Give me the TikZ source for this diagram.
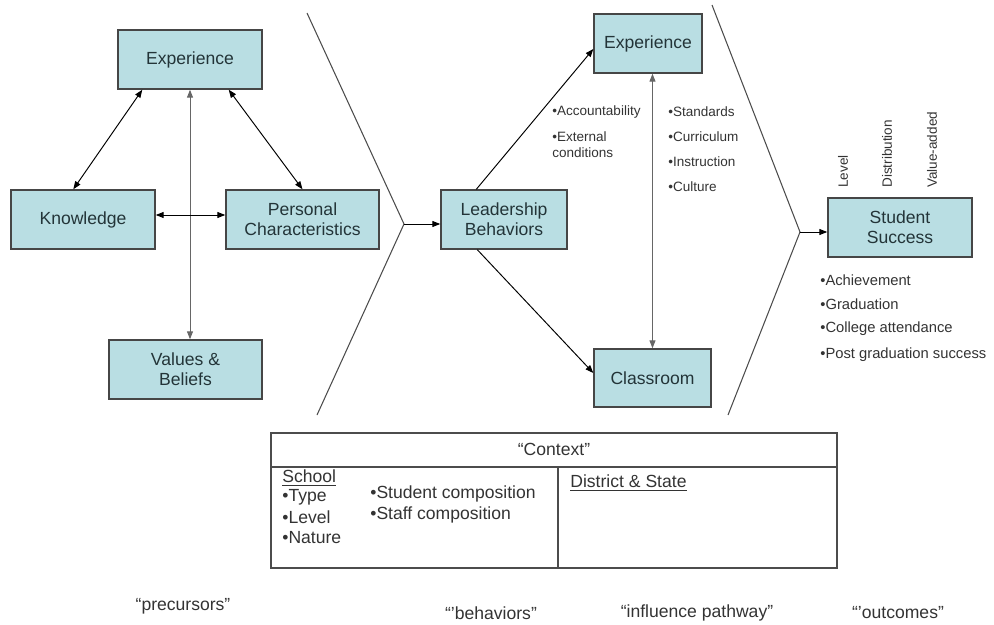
\documentclass[tikz,border=0pt]{standalone}
\usepackage{fontspec}
\setmainfont{Liberation Sans}
\usetikzlibrary{arrows.meta}
\definecolor{boxfill}{RGB}{185,222,227}
\definecolor{boxline}{RGB}{70,70,70}
\definecolor{boxtext}{RGB}{35,52,56}
\tikzset{
  box/.style={draw=boxline, line width=0.8pt, fill=boxfill, text=boxtext, minimum height=1.18cm, align=center, inner sep=0pt, font=\fontsize{10}{11.5}\selectfont},
  note/.style={anchor=west, inner sep=0pt, text=black!80, font=\fontsize{7.7}{9}\selectfont},
  outnote/.style={anchor=west, inner sep=0pt, text=black!80, font=\fontsize{8.4}{10}\selectfont},
  cell/.style={anchor=west, inner sep=0pt, text=black!80, align=left, font=\fontsize{10}{11.5}\selectfont},
  stage/.style={inner sep=0pt, text=black!80, font=\fontsize{10}{12}\selectfont},
  link/.style={<->, line width=0.55pt},
  chev/.style={line width=0.6pt, black!70}
}
\begin{document}
\begin{tikzpicture}[x=0.02cm, y=-0.02cm, >={Triangle[length=1.6mm,width=1.2mm]}]
\useasboundingbox (0,0) rectangle (994,625);

\node[box, minimum width=2.88cm] (expL) at (190,59.5) {Experience};
\node[box, minimum width=2.88cm] (know) at (83,219.5) {Knowledge};
\node[box, minimum width=3.06cm] (pers) at (302.5,219.5) {Personal\\Characteristics};
\node[box, minimum width=3.06cm] (vals) at (185.5,369.5) {Values \&\\Beliefs};

\draw[link] ([xshift=0.5cm]expL.south west) -- ([xshift=1.26cm]know.north west);
\draw[link] ([xshift=-0.68cm]expL.south east) -- (pers.north);
\draw[link, black!60] (expL.south) -- (expL.south |- vals.north);
\draw[link] ([yshift=0.09cm]know.east) -- ([yshift=0.09cm]pers.west);

\coordinate (c1a) at (307,13);
\coordinate (c1tip) at (404,224);
\coordinate (c1b) at (317,415);
\draw[chev] (c1a) -- (c1tip) -- (c1b);

\node[box, minimum width=2.52cm] (lead) at (504,219.5) {Leadership\\Behaviors};
\node[box, minimum width=2.16cm] (expM) at (648,43.5) {Experience};
\node[box, minimum width=2.34cm, minimum height=1.16cm] (class) at (652.5,378) {Classroom};

\draw[->, line width=0.55pt] (c1tip) -- (c1tip -| lead.west);
\draw[->, line width=0.55pt] ([xshift=0.72cm]lead.north west) -- ([yshift=-0.11cm]expM.west);
\draw[->, line width=0.55pt] ([xshift=0.74cm]lead.south west) -- ([yshift=0.1cm]class.west);
\draw[link, black!60] (expM.south -| class.north) -- (class.north);

\node[note] (acc) at (552,112) {•Accountability};
\node[note, align=left] (ext) at (552,145) {•External\\conditions};
\node[note] (std) at (668,112) {•Standards};
\node[note] (cur) at (668,137) {•Curriculum};
\node[note] (ins) at (668,162) {•Instruction};
\node[note] (cul) at (668,187) {•Culture};

\coordinate (c2a) at (712,5);
\coordinate (c2tip) at (800,232);
\coordinate (c2b) at (728,415);
\draw[chev] (c2a) -- (c2tip) -- (c2b);

\node[box, minimum width=2.88cm] (succ) at (900,227.5) {Student\\Success};
\draw[->, line width=0.55pt] (c2tip) -- (c2tip -| succ.west);

\node[note, rotate=90] (lvl) at (843,188) {Level};
\node[note, rotate=90] (dist) at (887,188) {Distribution};
\node[note, rotate=90] (vadd) at (932,188) {Value-added};

\node[outnote] (ach) at (820,280) {•Achievement};
\node[outnote] (grad) at (820,304) {•Graduation};
\node[outnote] (coll) at (820,329) {•College attendance};
\node[outnote] (post) at (820,355) {•Post graduation success};

\draw[line width=0.8pt, black!70] (271,433) rectangle (837,568);
\draw[line width=0.8pt, black!70] (271,467) -- (837,467);
\draw[line width=0.8pt, black!70] (558,467) -- (558,568);
\node[stage] (ctx) at (554,449) {“Context”};
\node[cell] (school) at (282,478) {\underline{School}};
\node[cell] (type) at (282,497) {•Type};
\node[cell] (lvlS) at (282,517) {•Level};
\node[cell] (nat) at (282,538) {•Nature};
\node[cell] (stud) at (370,494) {•Student composition};
\node[cell] (staff) at (370,515) {•Staff composition};
\node[cell] (dist2) at (570,483) {\underline{District \& State}};

\node[stage] (pre) at (183,606) {“precursors”};
\node[stage] (beh) at (491,613) {“'behaviors”};
\node[stage] (path) at (697,613) {“influence pathway”};
\node[stage] (outc) at (898,613) {“'outcomes”};
\end{tikzpicture}
\end{document}
